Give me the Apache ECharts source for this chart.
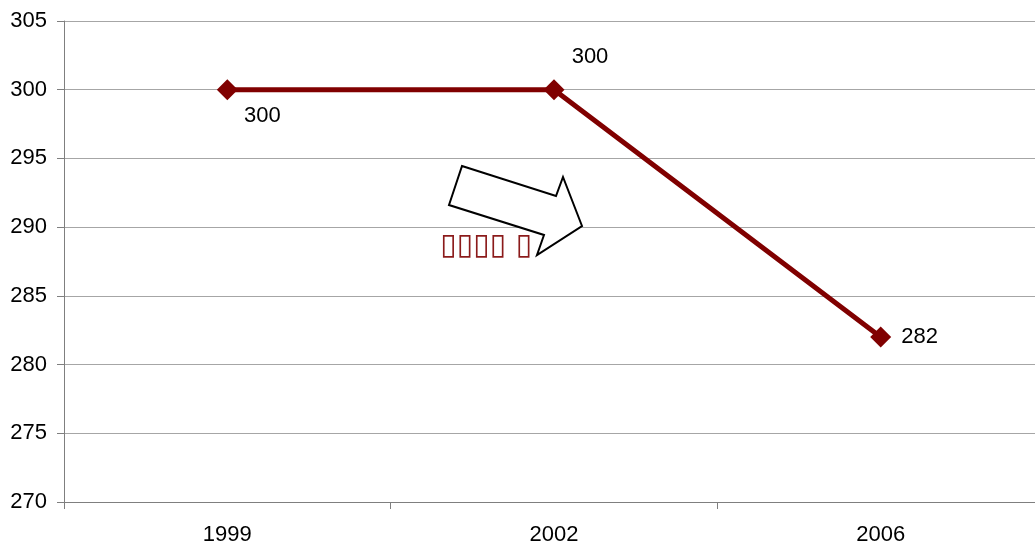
<!DOCTYPE html>
<html>
<head>
<meta charset="utf-8">
<script src="https://cdn.jsdelivr.net/npm/echarts@6/dist/echarts.min.js"></script>
<style>html,body{margin:0;padding:0;background:#fff;overflow:hidden}#c{width:1045px;height:550px}</style>
</head>
<body>
<div id="c"></div>
<script>
var categories = ['1999', '2002', '2006'];
var values = [300, 300, 282];
var yTicks = { min: 270, max: 305, interval: 5 };
var noteText = '\u25AF\u25AF\u25AF\u25AF \u25AF';

var labelOffsets = [[35, 26], [36, -33], [39, 0]];

var chart = echarts.init(document.getElementById('c'));
chart.setOption({
  animation: false,
  backgroundColor: '#fff',
  grid: { left: 64, right: 1, top: 21, bottom: 48 },
  xAxis: {
    type: 'category',
    data: categories,
    boundaryGap: true,
    axisLine: { lineStyle: { color: '#7f7f7f', width: 1 } },
    axisTick: { show: true, length: 7, lineStyle: { color: '#7f7f7f' } },
    axisLabel: { color: '#000', fontSize: 22, fontFamily: 'Liberation Sans', margin: 22 }
  },
  yAxis: {
    type: 'value',
    min: yTicks.min, max: yTicks.max, interval: yTicks.interval,
    axisLine: { show: true, lineStyle: { color: '#7f7f7f', width: 1 } },
    axisTick: { show: true, length: 7, lineStyle: { color: '#7f7f7f' } },
    axisLabel: { color: '#000', fontSize: 22, fontFamily: 'Liberation Sans', margin: 17 },
    splitLine: { show: true, lineStyle: { color: '#a6a6a6', width: 1 } }
  },
  series: [{
    type: 'line',
    data: values.map(function (v, i) {
      return {
        value: v,
        label: { show: true, position: 'inside', offset: labelOffsets[i] }
      };
    }),
    lineStyle: { color: '#800000', width: 5 },
    itemStyle: { color: '#800000' },
    symbol: 'diamond',
    symbolSize: 21,
    label: { color: '#000', fontSize: 22, fontFamily: 'Liberation Sans' }
  }],
  graphic: [
    {
      type: 'polygon',
      shape: { points: [[462,166],[556,196],[563,177],[582,226],[537,255],[544,235],[449,205]] },
      style: { fill: '#fff', stroke: '#000', lineWidth: 2 },
      z: 10
    },
    {
      type: 'text',
      left: 440, top: 231,
      style: { text: noteText, fill: '#8b1a1a', font: '30px "DejaVu Sans"' },
      z: 11
    }
  ]
});
</script>
</body>
</html>
